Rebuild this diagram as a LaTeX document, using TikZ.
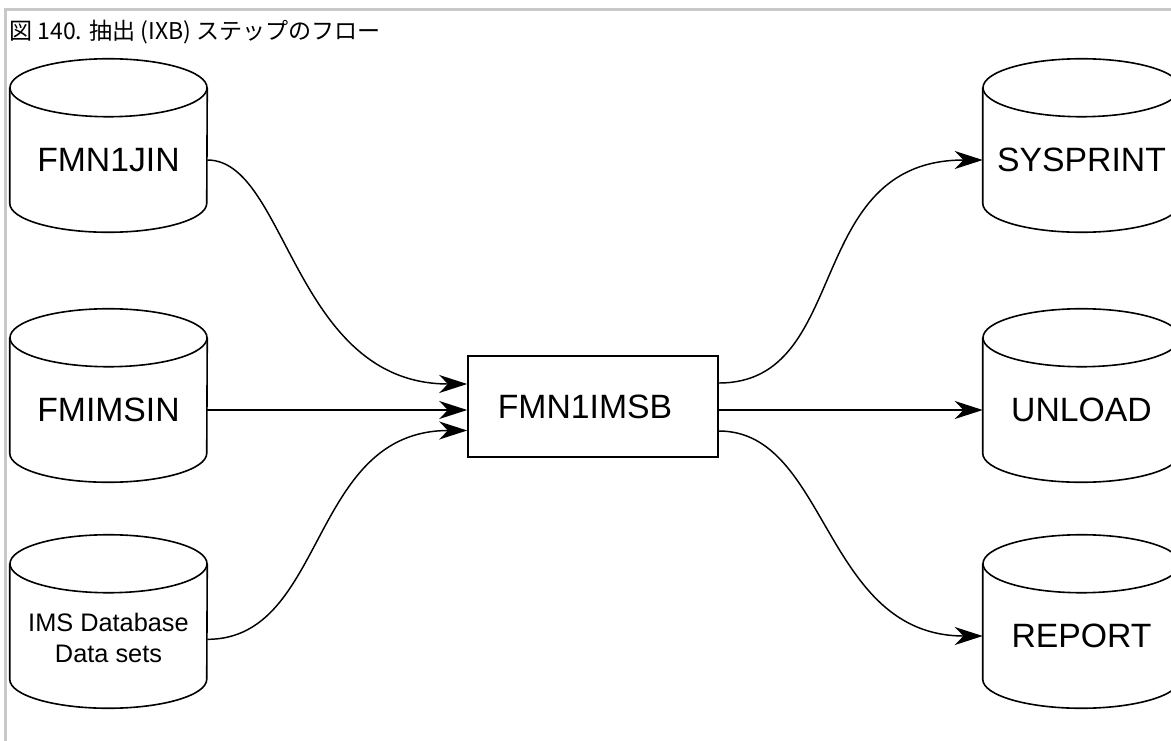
\documentclass[tikz,border=0pt]{standalone}
\usepackage{fontspec}
\setmainfont{Liberation Sans}
\newfontfamily\jpfont{Noto Sans CJK JP}
\usetikzlibrary{arrows.meta,calc}
\definecolor{framegray}{RGB}{200,200,200}
\tikzset{
  cylbody/.style={draw=none, minimum width=147.75pt, minimum height=108pt, inner sep=0pt,
    font=\fontsize{25.3}{30}\selectfont},
  cylline/.style={draw=black, line width=1.2pt},
  procbox/.style={draw=black, line width=1.2pt, minimum width=187.5pt, minimum height=75.75pt,
    inner sep=0pt, font=\fontsize{25.3}{30}\selectfont},
  conn/.style={draw=black, line width=1.1pt,
    -{Stealth[length=21pt, width=13.5pt, inset=6.5pt]}},
  framestyle/.style={draw=framegray, line width=2.25pt},
  titlestyle/.style={font=\jpfont\fontsize{17.3}{21}\selectfont, inner sep=0pt}
}
\begin{document}
\begin{tikzpicture}[x=0.75pt, y=-0.75pt]
\useasboundingbox (0,0) rectangle (1171,740);
\clip (0,0) rectangle (1171,740);
\fill[white] (0,0) rectangle (1171,740);
% frame
\draw[framestyle] (5,742) -- (5,9) -- (1173,9);
% title
\node[titlestyle, anchor=base west] (title) at (9,39) {図 140. 抽出 (IXB) ステップのフロー};
% cylinder bodies
\node[cylbody] (jin) at (108.5,160) {FMN1JIN};
\node[cylbody] (imsin) at (108.5,410) {FMIMSIN};
\node[cylbody, align=center, font=\fontsize{19}{23.25}\selectfont] (ims) at (108.5,638) {IMS Database\\Data sets};
\node[cylbody] (sys) at (1081.5,160) {SYSPRINT};
\node[cylbody] (unl) at (1081.5,410) {UNLOAD};
\node[cylbody] (rep) at (1081.5,636) {REPORT};
% cylinder outlines
\foreach \n in {jin,imsin,sys,unl,rep}{
  \draw[cylline] (\n.north) ellipse [x radius=73.875pt, y radius=21.75pt];
  \draw[cylline] (\n.north west) -- ([yshift=21.75pt]\n.south west)
    arc[start angle=180, end angle=360, x radius=73.875pt, y radius=21.75pt]
    -- (\n.north east);
}
\draw[cylline] ([yshift=1.5pt]ims.north) ellipse [x radius=73.875pt, y radius=21.75pt];
\draw[cylline] ([yshift=1.5pt]ims.north west) -- ([yshift=23.25pt]ims.south west)
  arc[start angle=180, end angle=360, x radius=73.875pt, y radius=21.75pt]
  -- ([yshift=1.5pt]ims.north east);
% process box
\node[procbox] (box) at (593,406.5) {\kern-12pt FMN1IMSB};
% connectors
\draw[conn] (jin.east) .. controls +(80,0) and +(-174,0) .. ($(box.west)+(0,-22.5)$);
\draw[conn] (imsin.east) -- (imsin.east -| box.west);
\draw[conn] ([yshift=-1pt]ims.east) .. controls +(120,0) and +(-159,0) .. ($(box.west)+(0,24)$);
\draw[conn] ($(box.east)+(0,-23.5)$) .. controls +(134,0) and +(-181,0) .. (sys.west);
\draw[conn] (box.east |- unl.west) -- (unl.west);
\draw[conn] ($(box.east)+(0,24.5)$) .. controls +(110,0) and +(-160,0) .. (rep.west);
\end{tikzpicture}
\end{document}
